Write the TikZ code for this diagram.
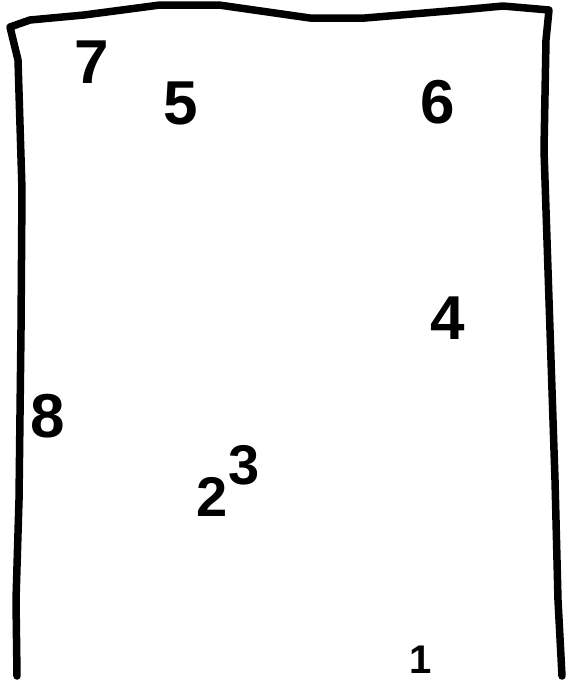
\documentclass[tikz,border=0pt]{standalone}
\usepackage{fontspec}
\setmainfont{Liberation Sans}
\usetikzlibrary{positioning}
\tikzset{
  outline/.style={draw=black, line width=7.5pt, line cap=round, line join=round},
  digit/.style={inner sep=0pt, font=\fontsize{62}{62}\selectfont\bfseries},
  smalldigit/.style={inner sep=0pt, font=\fontsize{56}{56}\selectfont\bfseries},
  tinydigit/.style={inner sep=0pt, font=\fontsize{40}{40}\selectfont\bfseries},
}
\begin{document}
\begin{tikzpicture}[x=1pt, y=-1pt]
    \useasboundingbox (0,0) rectangle (570,681);
    % outline, open at the bottom
    \coordinate (bl) at (17,676);
    \coordinate (tl) at (10,27);
    \coordinate (tr) at (549,10);
    \coordinate (br) at (562,676);
    \draw[outline] (bl) -- (16,600) -- (19,500) -- (21,330) -- (22,190) -- (18,60)
      -- (tl) -- (30,20) -- (84,15) -- (160,5) -- (219,5) -- (310,18) -- (365,18)
      -- (460,10) -- (503,6) -- (tr) -- (546,40) -- (544,150) -- (549,300)
      -- (555,480) -- (558,600) -- (br);
    % numbers
    \node[digit] (n7) at (92,62) {7};
    \node[digit] (n5) at (181,103) {5};
    \node[digit] (n6) at (438,102) {6};
    \node[digit] (n4) at (448,318) {4};
    \node[digit] (n8) at (48,416) {8};
    \node[smalldigit] (n2) at (212,497) {2};
    \node[smalldigit] (n3) at (244,465) {3};
    \node[tinydigit] (n1) at (421,660) {1};
\end{tikzpicture}
\end{document}
